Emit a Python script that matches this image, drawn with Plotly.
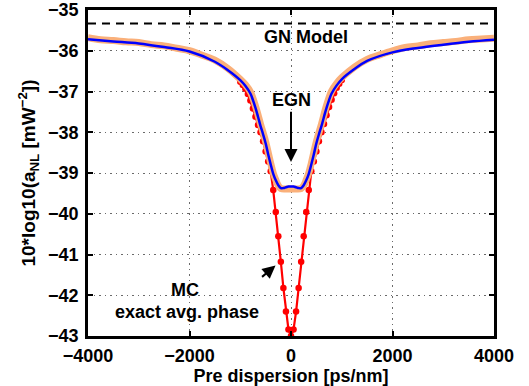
import plotly.graph_objects as go

# EGN model (blue)
egn_x = [-4000, -3500, -3000, -2500, -2000, -1500, -1250, -1000, -900, -800, -750, -700, -650,
         -600, -550, -500, -450, -400, -350, -300, -250, -200, -150, -100, -50, 0,
         50, 100, 150, 200, 250, 300, 350, 400, 450, 500, 550, 600, 650, 700, 750, 800,
         900, 1000, 1250, 1500, 2000, 2500, 3000, 3500, 4000]
egn_y = [-35.72, -35.77, -35.82, -35.91, -36.02, -36.27, -36.47, -36.72, -36.86, -37.05, -37.21, -37.40, -37.62,
         -37.85, -38.05, -38.27, -38.54, -38.79, -39.02, -39.18, -39.30, -39.37, -39.37, -39.35, -39.33, -39.33,
         -39.33, -39.35, -39.37, -39.37, -39.30, -39.18, -39.02, -38.79, -38.54, -38.27, -38.05, -37.85, -37.62, -37.40, -37.21, -37.05,
         -36.85, -36.70, -36.45, -36.25, -36.04, -35.93, -35.85, -35.78, -35.73]

# MC simulation, random phase (orange band)
mcr_x = [-4000, -3750, -3500, -3250, -3000, -2750, -2500, -2250, -2000, -1750, -1500, -1250, -1000, -900, -800,
         -700, -600, -500, -400, -350, -300, -250, -200, -100, 0, 100, 200, 250, 300, 350, 400, 500, 600, 700,
         800, 900, 1000, 1250, 1500, 1750, 2000, 2250, 2500, 2750, 3000, 3250, 3500, 3750, 4000]
mcr_y = [-35.68, -35.73, -35.75, -35.78, -35.80, -35.85, -35.88, -35.94, -36.00, -36.11, -36.23, -36.43, -36.70, -36.83, -37.01,
         -37.36, -37.80, -38.23, -38.76, -39.00, -39.17, -39.31, -39.38, -39.39, -39.39, -39.39, -39.38, -39.31, -39.17, -39.00, -38.76, -38.23, -37.80, -37.34,
         -36.99, -36.80, -36.66, -36.40, -36.21, -36.10, -36.00, -35.92, -35.88, -35.83, -35.80, -35.77, -35.73, -35.71, -35.69]

# MC exact avg. phase (red)
mc_x = [-4000, -3750, -3500, -3250, -3000, -2750, -2500, -2250, -2000, -1750, -1500, -1250,
        -1000, -950, -900, -850, -800, -750, -700, -650, -600, -550, -500, -450, -400, -350, -300,
        -250, -200, -150, -100, -50, 0, 50, 100, 150, 200, 250, 300, 350, 400, 450, 500, 550, 600,
        650, 700, 750, 800, 850, 900, 950, 1000,
        1250, 1500, 1750, 2000, 2250, 2500, 2750, 3000, 3250, 3500, 3750, 4000]
mc_y = [-35.71, -35.76, -35.78, -35.81, -35.83, -35.88, -35.92, -35.97, -36.03, -36.14, -36.27, -36.48,
        -36.76, -36.84, -36.93, -37.06, -37.22, -37.42, -37.62, -37.82, -38.00, -38.22, -38.47, -38.72, -38.96, -39.42, -39.96,
        -40.55, -41.18, -41.82, -42.40, -42.84, -43.00, -42.84, -42.40, -41.82, -41.18, -40.55, -39.96, -39.42, -38.96, -38.72, -38.47, -38.22, -38.00,
        -37.80, -37.58, -37.38, -37.20, -37.04, -36.91, -36.81, -36.72,
        -36.45, -36.25, -36.14, -36.04, -35.96, -35.92, -35.87, -35.84, -35.81, -35.77, -35.75, -35.73]

gn_x = [-4000, 4000]
gn_y = [-35.33, -35.33]

x_ticks = [-4000, -2000, 0, 2000, 4000]
y_ticks = [-35, -36, -37, -38, -39, -40, -41, -42, -43]

FONT = "Liberation Sans"

# dots are drawn on the densely sampled central part; the tails are plain line
dot_x = [xv for xv in mc_x if abs(xv) <= 1000]
dot_y = [yv for xv, yv in zip(mc_x, mc_y) if abs(xv) <= 1000]

fig = go.Figure()
fig.add_trace(go.Scatter(x=mc_x, y=mc_y, mode="lines",
                         line=dict(color="#FF0000", width=2.2), showlegend=False))
fig.add_trace(go.Scatter(x=dot_x, y=dot_y, mode="markers",
                         marker=dict(color="#FF0000", size=6.5), showlegend=False))
fig.add_trace(go.Scatter(x=mcr_x, y=mcr_y, mode="lines", line_shape="spline",
                         line=dict(color="#FAB07A", width=7), showlegend=False))
fig.add_trace(go.Scatter(x=egn_x, y=egn_y, mode="lines", line_shape="spline",
                         line=dict(color="#0000FF", width=2.5), showlegend=False))
fig.add_trace(go.Scatter(x=gn_x, y=gn_y, mode="lines",
                         line=dict(color="black", width=2, dash="8px,6px"), showlegend=False))

tf = dict(family=FONT, size=18, color="black", weight="bold")
fig.add_annotation(x=305, y=-35.66, text="GN Model", showarrow=False, font=tf)
fig.add_annotation(x=0, y=-37.2, text="EGN", showarrow=False, font=tf)
fig.add_annotation(x=-2079, y=-41.88, text="MC", showarrow=False, font=tf)
fig.add_annotation(x=-2059, y=-42.42, text="exact avg. phase", showarrow=False, font=tf)
fig.add_annotation(x=0, y=-38.73, ax=0, ay=-37.46, axref="x", ayref="y", xref="x", yref="y",
                   text="", showarrow=True, arrowhead=2, arrowsize=1.3, arrowwidth=2, arrowcolor="black")
fig.add_annotation(x=-305, y=-41.27, ax=-600, ay=-41.58, axref="x", ayref="y", xref="x", yref="y",
                   text="", showarrow=True, arrowhead=2, arrowsize=1.3, arrowwidth=2, arrowcolor="black")

axis_common = dict(showline=True, linecolor="black", linewidth=2.5, mirror="ticks",
                   ticks="inside", ticklen=5, tickwidth=1.5, tickcolor="black",
                   showgrid=True, gridcolor="#6a6a6a", griddash="1.5px,4px", gridwidth=1,
                   zeroline=False, automargin=False, ticklabeloverflow="allow",
                   tickfont=dict(family=FONT, size=18, color="black", weight="bold"))

fig.update_xaxes(range=[-4000, 4000], tickvals=x_ticks, ticklabelstandoff=2, **axis_common,
                 title=dict(text="Pre dispersion [ps/nm]", standoff=0,
                            font=dict(family=FONT, size=18, color="black", weight="bold")))
fig.update_yaxes(range=[-43, -35], tickvals=y_ticks, ticklabelstandoff=3, **axis_common,
                 title=dict(text="10*log10(a<sub>NL</sub> [mW<sup>−2</sup>])", standoff=8,
                            font=dict(family=FONT, size=19, color="black", weight="bold")))

fig.update_layout(width=529, height=386, autosize=False, margin=dict(l=88, r=35, t=10, b=50),
                  plot_bgcolor="white", paper_bgcolor="white")

# remove the default 8px page margin so the figure fills the window exactly
fig.write_html("out.html", config={"responsive": False, "displayModeBar": False},
               post_script="document.body.style.margin='0px';")
